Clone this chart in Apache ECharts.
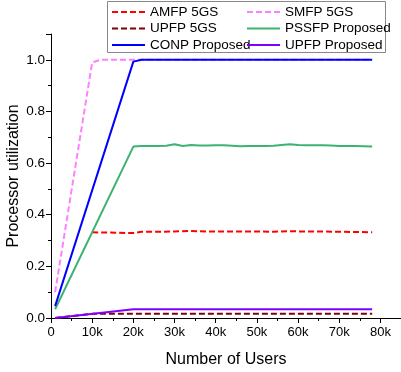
<!DOCTYPE html>
<html><head><meta charset="utf-8">
<script src="https://cdn.jsdelivr.net/npm/echarts@6/dist/echarts.min.js"></script>
<style>html,body{margin:0;padding:0;background:#fff}#c{width:401px;height:372px}</style>
</head><body><div id="c"></div>
<script>
const seriesNames = ['AMFP 5GS','SMFP 5GS','UPFP 5GS','PSSFP Proposed','CONP Proposed','UPFP Proposed'];
const xTickValues = [0,10000,20000,30000,40000,50000,60000,70000,80000];
const yTickValues = [0,0.2,0.4,0.6,0.8,1.0];

const smfpX = [1000,10000,12000,20000,30000,40000,50000,60000,70000,78000];
const smfpY = [0.10,0.99,1.0,1.0,1.0,1.0,1.0,1.0,1.0,1.0];

const amfpX = [10000,20000,22000,26000,30000,34000,38000,42000,46000,50000,54000,58000,62000,66000,70000,74000,78000];
const amfpY = [0.332,0.329,0.334,0.334,0.335,0.337,0.335,0.335,0.335,0.335,0.334,0.336,0.335,0.335,0.334,0.333,0.332];

const upfp5gsX = [1000,10000,20000,30000,40000,50000,60000,70000,78000];
const upfp5gsY = [0.0,0.016,0.016,0.016,0.016,0.016,0.016,0.016,0.016];

const pssfpX = [1000,20000,22000,24000,26000,28000,30000,32000,34000,36000,38000,40000,42000,44000,46000,48000,50000,52000,54000,56000,58000,60000,62000,64000,66000,68000,70000,72000,74000,76000,78000];
const pssfpY = [0.034,0.664,0.666,0.666,0.666,0.667,0.673,0.666,0.670,0.668,0.668,0.669,0.669,0.667,0.665,0.666,0.666,0.666,0.667,0.670,0.673,0.670,0.669,0.669,0.669,0.668,0.666,0.666,0.666,0.665,0.664];

const conpX = [1000,20000,22000,30000,40000,50000,60000,70000,78000];
const conpY = [0.046,0.993,1.0,1.0,1.0,1.0,1.0,1.0,1.0];

const upfpPropX = [1000,20000,30000,40000,50000,60000,70000,78000];
const upfpPropY = [0.0,0.034,0.034,0.034,0.034,0.034,0.034,0.034];

const zip = (xs, ys) => xs.map((x, i) => [x, ys[i]]);
const FONT = 'Liberation Sans, Arial, sans-serif';

function mk(name, xs, ys, color, dashed) {
  return {
    name, type: 'line', data: zip(xs, ys),
    symbol: 'none',
    lineStyle: { color, width: 2, type: dashed ? [6, 3] : 'solid' },
    itemStyle: { color }, z: 2
  };
}

const legendBase = {
  orient: 'vertical', top: 0, itemWidth: 33, itemHeight: 14, itemGap: 2.5,
  itemStyle: { opacity: 0 },
  textStyle: { fontFamily: FONT, fontSize: 13.5, color: '#000' },
  z: 5
};

const chart = echarts.init(document.getElementById('c'), null, { renderer: 'canvas' });
chart.setOption({
  animation: false,
  backgroundColor: '#fff',
  grid: { left: 51, right: 0, top: 34, bottom: 54, containLabel: false, outerBoundsMode: 'none' },
  graphic: [{
    type: 'rect', left: 107, top: 1, z: 0,
    shape: { width: 278, height: 51 },
    style: { fill: '#fff', stroke: '#888', lineWidth: 1 }
  }],
  legend: [
    Object.assign({}, legendBase, { left: 106, data: ['AMFP 5GS','UPFP 5GS','CONP Proposed'] }),
    Object.assign({}, legendBase, { left: 241, data: ['SMFP 5GS','PSSFP Proposed','UPFP Proposed'] })
  ],
  xAxis: {
    type: 'value', min: 0, max: 85000, interval: 10000,
    name: 'Number of Users', nameLocation: 'middle', nameGap: 34,
    nameTextStyle: { fontFamily: FONT, fontSize: 16, color: '#000' },
    axisLine: { onZero: false, lineStyle: { color: '#000', width: 1 } },
    axisTick: { show: true, length: 5, lineStyle: { color: '#000' } },
    minorTick: { show: true, splitNumber: 2, length: 3, lineStyle: { color: '#000' } },
    axisLabel: {
      fontFamily: FONT, fontSize: 13, color: '#000', margin: 8, showMaxLabel: false,
      formatter: v => (xTickValues.indexOf(v) < 0 ? '' : (v === 0 ? '0' : (v / 1000) + 'k'))
    },
    splitLine: { show: false }
  },
  yAxis: {
    type: 'value', min: 0, max: 1.1, interval: 0.2,
    name: 'Processor utilization', nameLocation: 'middle', nameGap: 29, nameMoveOverlap: false,
    nameTextStyle: { fontFamily: FONT, fontSize: 16, color: '#000' },
    axisLine: { show: true, onZero: false, lineStyle: { color: '#000', width: 1 } },
    axisTick: { show: true, length: 5, lineStyle: { color: '#000' } },
    minorTick: { show: true, splitNumber: 2, length: 3, lineStyle: { color: '#000' } },
    axisLabel: {
      fontFamily: FONT, fontSize: 13.5, color: '#000', margin: 6, showMaxLabel: false,
      formatter: v => (yTickValues.some(t => Math.abs(t - v) < 1e-9) ? v.toFixed(1) : '')
    },
    splitLine: { show: false }
  },
  series: [
    mk(seriesNames[1], smfpX, smfpY, '#ff80ff', true),
    mk(seriesNames[0], amfpX, amfpY, '#ff0000', true),
    mk(seriesNames[2], upfp5gsX, upfp5gsY, '#800000', true),
    mk(seriesNames[3], pssfpX, pssfpY, '#3cb371', false),
    mk(seriesNames[4], conpX, conpY, '#0000ff', false),
    mk(seriesNames[5], upfpPropX, upfpPropY, '#8000ff', false)
  ]
});
</script></body></html>
